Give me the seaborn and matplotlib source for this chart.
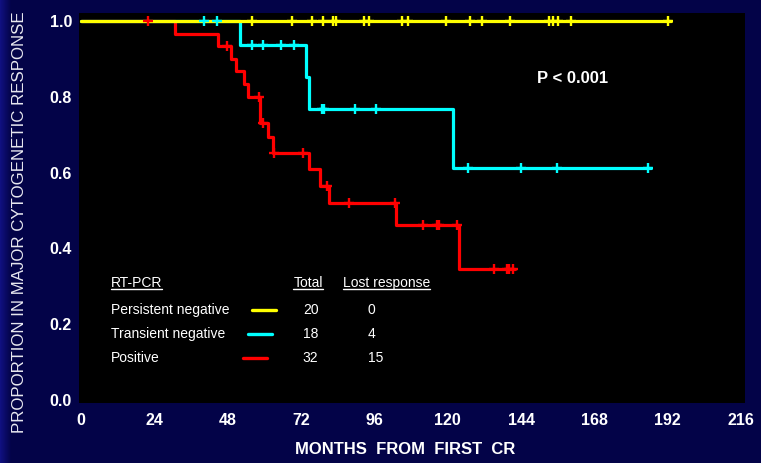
import numpy as np
import pandas as pd
import matplotlib
matplotlib.use("Agg")
import matplotlib.pyplot as plt
from matplotlib.lines import Line2D
import seaborn as sns

# ---- data -------------------------------------------------------------
groups = ["Persistent negative", "Transient negative", "Positive"]
colors = ["#ffff00", "#00ffff", "#ff0000"]
totals = [20, 18, 32]
lost = [0, 4, 15]

# step curves: times (months) where the proportion changes, and new level
persist_times = [0.0]
persist_levels = [1.0]
persist_end = 193.2
persist_censor = [56.0, 69.0, 75.6, 79.2, 82.5, 83.4, 92.6, 94.2, 105.0, 107.0,
                  119.4, 127.3, 131.2, 140.4, 153.1, 154.5, 156.1, 160.4, 192.1]

transient_times = [0.0, 52.0, 73.6, 74.5, 121.6]
transient_levels = [1.0, 0.937, 0.851, 0.767, 0.611]
transient_end = 186.7
transient_censor = [40.2, 44.5, 56.1, 59.6, 65.4, 69.6, 79.0, 79.6, 89.7, 96.5,
                    126.7, 144.0, 155.7, 185.6]

positive_times = [0.0, 30.8, 44.7, 49.1, 50.6, 53.2, 54.6, 58.7, 61.3, 62.9,
                  74.7, 78.2, 81.3, 103.0, 123.6]
positive_levels = [1.0, 0.967, 0.935, 0.901, 0.868, 0.834, 0.800, 0.731, 0.695,
                   0.653, 0.610, 0.565, 0.519, 0.462, 0.346]
positive_end = 142.0
positive_censor = [22.0, 47.7, 58.2, 59.7, 63.2, 72.8, 80.4, 87.8, 102.7, 111.8,
                   116.6, 117.2, 122.9, 135.1, 139.3, 140.2, 141.3]

x_ticks = [0, 24, 48, 72, 96, 120, 144, 168, 192, 216]
y_ticks = [0.0, 0.2, 0.4, 0.6, 0.8, 1.0]

curves = {
    "Persistent negative": (persist_times, persist_levels, persist_end, persist_censor),
    "Transient negative": (transient_times, transient_levels, transient_end, transient_censor),
    "Positive": (positive_times, positive_levels, positive_end, positive_censor),
}

# ---- tidy tables --------------------------------------------------------
step_rows, cens_rows = [], []
for g, (t, lv, end, cens) in curves.items():
    for ti, li in zip(t, lv):
        step_rows.append((g, ti, li))
    step_rows.append((g, end, lv[-1]))
    t_arr = np.asarray(t)
    for c in cens:
        idx = np.searchsorted(t_arr, c, side="right") - 1
        cens_rows.append((g, c, lv[idx]))
steps = pd.DataFrame(step_rows, columns=["group", "months", "prop"])
cens = pd.DataFrame(cens_rows, columns=["group", "months", "prop"])
palette = dict(zip(groups, colors))

# ---- figure -------------------------------------------------------------
sns.set_theme(style="ticks")
plt.rcParams["font.family"] = ["Liberation Sans", "DejaVu Sans"]

W, H = 761, 463
fig = plt.figure(figsize=(W / 100, H / 100), dpi=100)
fig.patch.set_facecolor("#03034a")

# navy backdrop, slightly brighter toward the left edge
bg = fig.add_axes([0, 0, 1, 1], zorder=-10)
grad = np.linspace(0, 1, W)
r = np.clip(1 - grad / 0.014, 0, 1)
c0 = np.array([0x10, 0x10, 0x80]) / 255
c1 = np.array([0x03, 0x03, 0x48]) / 255
row = c1[None, :] + (c0 - c1)[None, :] * r[:, None]
bg.imshow(np.repeat(row[None, :, :], 2, axis=0), aspect="auto", extent=[0, 1, 0, 1])
bg.set_axis_off()

L, R, T, B = 79, 745, 13, 403
ax = fig.add_axes([L / W, 1 - B / H, (R - L) / W, (B - T) / H])
ax.set_facecolor("black")

# curves (yellow drawn over the others where they coincide)
for g, z in zip(["Positive", "Transient negative", "Persistent negative"], [2.0, 2.1, 2.2]):
    sns.lineplot(data=steps[steps.group == g], x="months", y="prop", color=palette[g],
                 estimator=None, sort=False, drawstyle="steps-post", linewidth=2.3,
                 ax=ax, zorder=z, legend=False)

# censoring marks
for g in ["Positive", "Transient negative", "Persistent negative"]:
    sns.scatterplot(data=cens[cens.group == g], x="months", y="prop", color=palette[g],
                    marker="+", s=62, linewidth=1.7, ax=ax, zorder=3, legend=False)

ax.set_xlim(-0.65, 217.3)
ax.set_ylim(-0.0079, 1.0211)
ax.set_xticks(x_ticks)
ax.set_xticklabels([str(v) for v in x_ticks])
ax.set_yticks(y_ticks)
ax.set_yticklabels([f"{v:.1f}" for v in y_ticks])
ax.tick_params(axis="both", length=0, colors="white", labelsize=11.5)
ax.tick_params(axis="x", pad=7.5)
ax.tick_params(axis="y", pad=5)
for lab in ax.get_xticklabels() + ax.get_yticklabels():
    lab.set_fontweight("bold")
for s in ax.spines.values():
    s.set_visible(False)
ax.set_xlabel("")
ax.set_ylabel("")

fig.text(405 / W, 1 - 449 / H, "MONTHS  FROM  FIRST  CR", color="white",
         fontsize=12, fontweight="bold", ha="center", va="center")
fig.text(20 / W, 1 - 222 / H, "PROPORTION IN MAJOR CYTOGENETIC RESPONSE",
         color="#e8e8f0", fontsize=12.2, rotation=90, ha="center", va="center")

ax.text(161, 0.847, "P < 0.001", color="white", fontsize=12, fontweight="bold",
        ha="center", va="center")

# ---- key table ----------------------------------------------------------
def fx(px):
    return (px - L) / (R - L)


def fy(py):
    return (B - py) / (B - T)


tkw = dict(transform=ax.transAxes, color="white", fontsize=10, va="center")
headers = [
    ax.text(fx(110.7), fy(283), "RT-PCR", ha="left", **tkw),
    ax.text(fx(308), fy(283), "Total", ha="center", **tkw),
    ax.text(fx(343), fy(283), "Lost response", ha="left", **tkw),
]
row_y = [310, 334, 357.7]
seg_x = [(252.3, 276.0), (247.7, 271.7), (242.7, 266.7)]
for g, c, n, k, yy, (x0, x1) in zip(groups, colors, totals, lost, row_y, seg_x):
    ax.text(fx(110.7), fy(yy), g, ha="left", **tkw)
    ax.add_line(Line2D([fx(x0), fx(x1)], [fy(yy), fy(yy)], color=c, linewidth=2.4,
                       transform=ax.transAxes))
    ax.text(fx(310.7), fy(yy), str(n), ha="center", **tkw)
    ax.text(fx(368), fy(yy), str(k), ha="left", **tkw)

# underline the header cells
fig.canvas.draw()
renderer = fig.canvas.get_renderer()
inv = fig.transFigure.inverted()
for t in headers:
    bb = t.get_window_extent(renderer)
    (a0, b0) = inv.transform((bb.x0, bb.y0 + 1.5))
    (a1, _) = inv.transform((bb.x1, bb.y0 + 1.5))
    fig.add_artist(Line2D([a0, a1], [b0, b0], color="white", linewidth=1.0,
                          transform=fig.transFigure))

fig.savefig("out.png", dpi=100, facecolor=fig.get_facecolor())
